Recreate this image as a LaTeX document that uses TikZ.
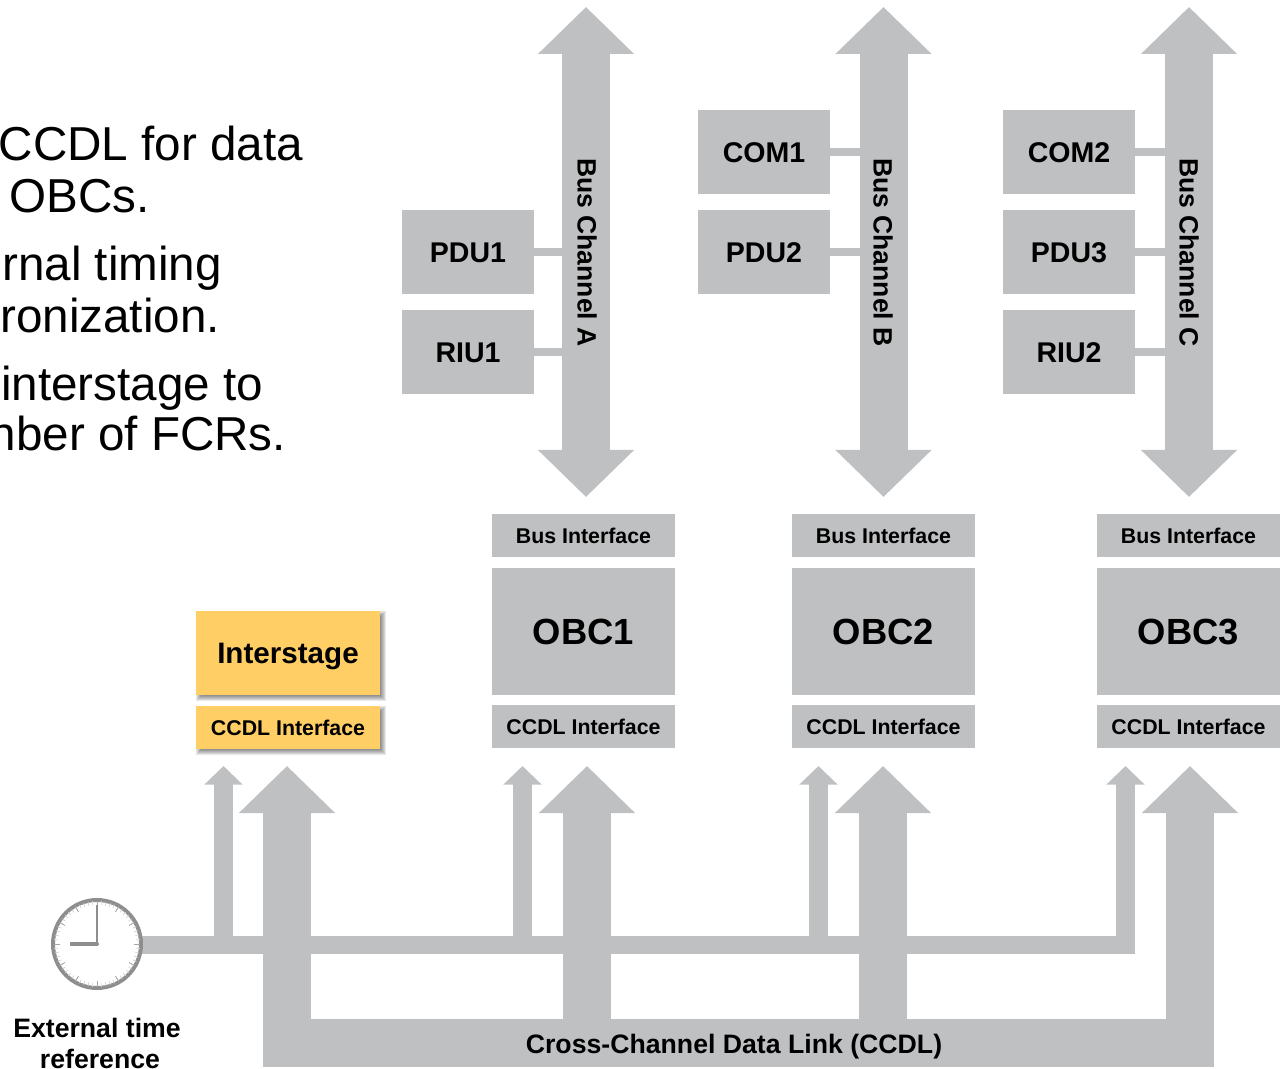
\documentclass[tikz,border=0pt]{standalone}
\usepackage{fontspec}
\setmainfont{Liberation Sans}
\usetikzlibrary{arrows.meta}
\definecolor{bargray}{HTML}{BFC0C2}
\definecolor{yel}{HTML}{FFCF66}
\definecolor{ring}{HTML}{8E8E8E}
\newcommand{\fsz}[1]{\fontsize{#1}{#1}\selectfont}
\tikzset{
  x=0.75pt,y=-0.75pt,
  every node/.style={inner sep=0pt,outer sep=0pt},
  pane/.style={fill=bargray,minimum width=132*0.75pt,minimum height=84*0.75pt,font=\fsz{21.4}\bfseries,text height=16.5pt,text depth=0pt},
  thinbox/.style={fill=bargray,minimum width=183*0.75pt,minimum height=43*0.75pt,font=\fsz{16}\bfseries},
  obcbox/.style={fill=bargray,minimum width=183*0.75pt,minimum height=127*0.75pt,font=\fsz{27.3}\bfseries},
  yelbox/.style={fill=yel,minimum width=184*0.75pt},
  busarrow/.style={draw=bargray,line width=36pt,{Triangle[length=35.25pt,width=70pt]}-{Triangle[length=35.25pt,width=70pt]}},
  bigarrow/.style={draw=bargray,line width=36pt,-{Triangle[length=35.25pt,width=70pt]}},
  smallarrow/.style={draw=bargray,line width=14pt,line join=miter,-{Triangle[length=14pt,width=28pt]}},
  stub/.style={draw=bargray,line width=6pt},
  chlabel/.style={rotate=-90,font=\fsz{19.9}\bfseries},
  bullet/.style={anchor=base east,font=\fsz{35.7}},
  caption/.style={font=\fsz{20}\bfseries},
}
\begin{document}
\begin{tikzpicture}
\useasboundingbox (0,0) rectangle (1286,1069);
\begin{scope}
\clip (0,0) rectangle (1286,1069);
\node[bullet] (t1) at (303,161) {CCDL for data};
\node[bullet] (t2) at (150,213) {OBCs.};
\node[bullet] (t3) at (222,281) {rnal timing};
\node[bullet] (t4) at (220,333) {ronization.};
\node[bullet] (t5) at (263,401) {interstage to};
\node[bullet] (t6) at (286,451) {nber of FCRs.};
\end{scope}
% bus channels
\coordinate (aT) at (586,7); \coordinate (aB) at (586,497);
\coordinate (bT) at (883.5,7); \coordinate (bB) at (883.5,497);
\coordinate (cT) at (1189,7); \coordinate (cB) at (1189,497);
\draw[busarrow] (aT) -- (aB);
\draw[busarrow] (bT) -- (bB);
\draw[busarrow] (cT) -- (cB);
% units
\node[pane] (pdu1) at (468,252) {PDU1};
\node[pane] (riu1) at (468,352) {RIU1};
\node[pane] (com1) at (764,152) {COM1};
\node[pane] (pdu2) at (764,252) {PDU2};
\node[pane] (com2) at (1069,152) {COM2};
\node[pane] (pdu3) at (1069,252) {PDU3};
\node[pane] (riu2) at (1069,352) {RIU2};
\draw[stub] (pdu1.east) -- (pdu1.east -| aT);
\draw[stub] (riu1.east) -- (riu1.east -| aT);
\draw[stub] (com1.east) -- (com1.east -| bT);
\draw[stub] (pdu2.east) -- (pdu2.east -| bT);
\draw[stub] (com2.east) -- (com2.east -| cT);
\draw[stub] (pdu3.east) -- (pdu3.east -| cT);
\draw[stub] (riu2.east) -- (riu2.east -| cT);
\node[chlabel] (la) at (587,252.5) {Bus Channel A};
\node[chlabel] (lb) at (883,252.5) {Bus Channel B};
\node[chlabel] (lc) at (1189,252.5) {Bus Channel C};
% OBCs
\node[thinbox] (bi1) at (583.5,535.5) {Bus Interface};
\node[obcbox] (obc1) at (583.5,631.5) {OBC1};
\node[thinbox] (ci1) at (583.5,726.5) {CCDL Interface};
\node[thinbox] (bi2) at (883.5,535.5) {Bus Interface};
\node[obcbox] (obc2) at (883.5,631.5) {OBC2};
\node[thinbox] (ci2) at (883.5,726.5) {CCDL Interface};
\node[thinbox] (bi3) at (1188.5,535.5) {Bus Interface};
\node[obcbox] (obc3) at (1188.5,631.5) {OBC3};
\node[thinbox] (ci3) at (1188.5,726.5) {CCDL Interface};
% interstage shadows
\foreach \g in {0,1,2,3,4,5}{
  \fill[black,opacity=0.09] (196+\g,611+\g) rectangle (380+6-\g,695+6-\g);
  \fill[black,opacity=0.09] (196+\g,706+\g) rectangle (380+6-\g,749+6-\g);
}
\node[yelbox,minimum height=84*0.75pt,font=\fsz{22.2}\bfseries,text height=16.5pt,text depth=0pt] (inter) at (288,653) {Interstage};
\node[yelbox,minimum height=43*0.75pt,font=\fsz{16}\bfseries] (ci0) at (288,727.5) {CCDL Interface};
% CCDL bus
\node[fill=bargray,minimum width=951*0.75pt,minimum height=48*0.75pt] (ccdl) at (738.5,1043) {};
\coordinate (u0) at (287,766); \coordinate (u1) at (587,766);
\coordinate (u2) at (883,766); \coordinate (u3) at (1190,766);
\draw[bigarrow] (u0 |- ccdl.south) -- (u0);
\draw[bigarrow] (u1 |- ccdl.south) -- (u1);
\draw[bigarrow] (u2 |- ccdl.south) -- (u2);
\draw[bigarrow] (u3 |- ccdl.south) -- (u3);
\node[caption] (ccdlt) at (734,1047) {Cross-Channel Data Link (CCDL)};
% timing
\coordinate (clk) at (97,944);
\coordinate (r0) at (223.5,766); \coordinate (r1) at (522.5,766);
\coordinate (r2) at (818.5,766); \coordinate (r3) at (1125.5,766);
\coordinate (tline) at (97,945);
\draw[smallarrow] (tline) -- (tline -| r3) -- (r3);
\draw[smallarrow] (tline -| r0) -- (r0);
\draw[smallarrow] (tline -| r1) -- (r1);
\draw[smallarrow] (tline -| r2) -- (r2);
% clock
\node[circle,fill=white,draw=ring,line width=3pt,minimum size=88*0.75pt] (clock) at (clk) {};
\foreach \a in {0,6,...,354}{
  \draw[gray!35,line width=0.5pt] (clk) ++(\a:39) -- ++(\a:4);
}
\foreach \a in {0,30,...,330}{
  \draw[gray!70,line width=0.6pt] (clk) ++(\a:37) -- ++(\a:6);
}
\draw[ring,line width=1pt] (clk) -- (97,905);
\draw[ring,line width=2.4pt] (clk) -- (70,944);
\fill[ring] (clk) circle (2);
\node[caption] (ext1) at (97,1028) {External time};
\node[caption] (ext2) at (100,1059) {reference};
\end{tikzpicture}
\end{document}
